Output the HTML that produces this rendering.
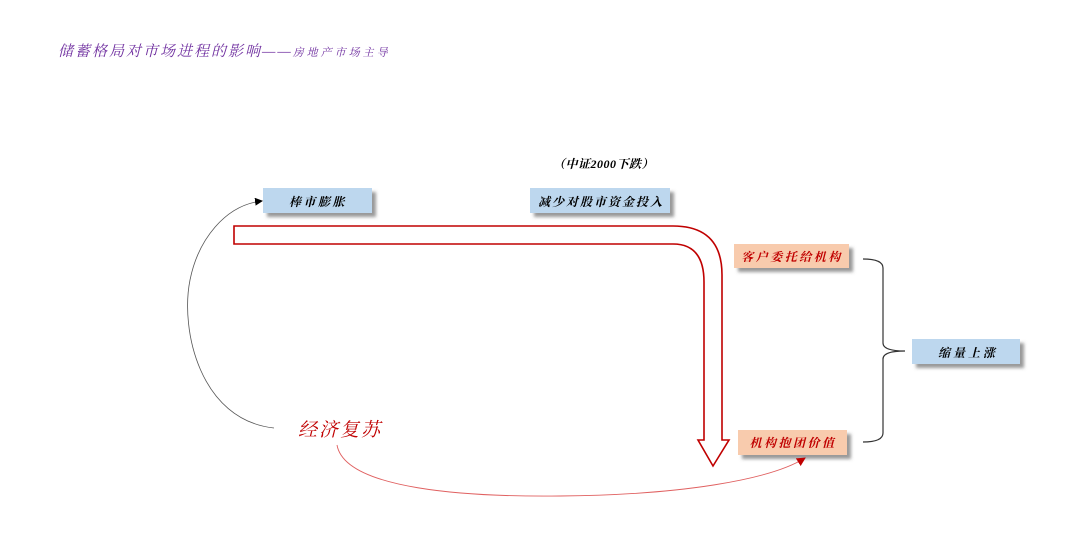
<!DOCTYPE html>
<html><head><meta charset="utf-8"><style>
html,body{margin:0;padding:0;background:#fff;width:1080px;height:560px;overflow:hidden}
svg text{font-family:"Liberation Serif","Noto Serif CJK SC",serif;font-style:italic}
</style></head><body>
<svg width="1080" height="560" viewBox="0 0 1080 560" xmlns="http://www.w3.org/2000/svg">
<defs>
<filter id="sh" x="-10%" y="-20%" width="130%" height="160%"><feDropShadow dx="4" dy="4" stdDeviation="1.5" flood-color="#555" flood-opacity="0.6"/></filter>
<marker id="ab" markerWidth="8" markerHeight="8" refX="7" refY="4" orient="auto" markerUnits="userSpaceOnUse"><path d="M0,0 L8,4 L0,8 z" fill="#000"/></marker>
<marker id="ar" markerWidth="9" markerHeight="9" refX="8" refY="4.5" orient="auto" markerUnits="userSpaceOnUse"><path d="M0,0 L9,4.5 L0,9 z" fill="#c00000"/></marker>
</defs>
<text x="58" y="56" font-size="15" fill="#7030a0" letter-spacing="2">储蓄格局对市场进程的影响——<tspan font-size="11" letter-spacing="3">房地产市场主导</tspan></text>
<text x="553" y="168" font-size="12" fill="#000" font-weight="bold" letter-spacing="0.5">（中证2000下跌）</text>

<path d="M234,226 L673,226 Q722,226 722,275 L722,440 L729,440 L713,466 L698,440 L704,440 L704,282 Q704,244 673,244 L234,244 Z" fill="#fff" stroke="#c00000" stroke-width="1.6"/>

<rect x="263" y="188" width="109" height="25" fill="#bdd7ee" filter="url(#sh)"/>
<text x="318" y="206" font-size="12" text-anchor="middle" font-weight="bold" fill="#000" letter-spacing="2.5">棒市膨胀</text>
<rect x="530" y="188" width="140" height="25" fill="#bdd7ee" filter="url(#sh)"/>
<text x="601" y="206" font-size="12" text-anchor="middle" font-weight="bold" fill="#000" letter-spacing="2">减少对股市资金投入</text>
<rect x="734" y="244" width="115" height="24" fill="#f8cbad" filter="url(#sh)"/>
<text x="792" y="261" font-size="12" text-anchor="middle" font-weight="bold" fill="#c00000" letter-spacing="2.5">客户委托给机构</text>
<rect x="738" y="430" width="109" height="25" fill="#f8cbad" filter="url(#sh)"/>
<text x="793" y="447" font-size="12" text-anchor="middle" font-weight="bold" fill="#c00000" letter-spacing="2.5">机构抱团价值</text>
<rect x="912" y="339" width="108" height="25" fill="#bdd7ee" filter="url(#sh)"/>
<text x="968" y="357" font-size="12" text-anchor="middle" font-weight="bold" fill="#000" letter-spacing="3">缩量上涨</text>

<path d="M863,259 Q883,259 883,268 L883,343 Q883,351 905,351 Q883,351 883,359 L883,433 Q883,442 863,442" fill="none" stroke="#333" stroke-width="1.2"/>

<path d="M274,428 C200,420 180,330 190,280 C198,240 225,205 262,201" fill="none" stroke="#555" stroke-width="0.8" marker-end="url(#ab)"/>
<text x="298" y="436" font-size="19" fill="#c00000" letter-spacing="2">经济复苏</text>
<path d="M337,445 C345,490 470,497 560,496 C680,495 770,480 805,458" fill="none" stroke="#e06060" stroke-width="0.9" marker-end="url(#ar)"/>
</svg>
</body></html>
